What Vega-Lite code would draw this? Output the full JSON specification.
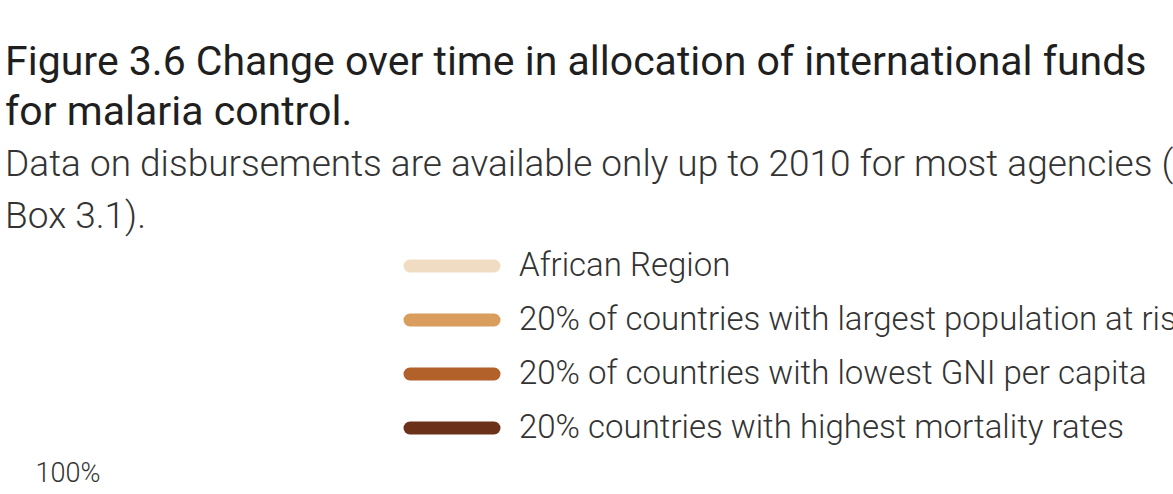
{
  "$schema": "https://vega.github.io/schema/vega-lite/v6.json",
  "width": 1000,
  "height": 400,
  "background": "white",
  "view": {"stroke": null},
  "padding": {"left": 5, "top": 42, "right": 0, "bottom": 0},
  "title": {
    "text": ["Figure 3.6 Change over time in allocation of international funds", "for malaria control."],
    "subtitle": ["Data on disbursements are available only up to 2010 for most agencies (see", "Box 3.1)."],
    "anchor": "start",
    "frame": "bounds",
    "dx": -30,
    "font": "Roboto, sans-serif",
    "fontSize": 41,
    "fontWeight": "normal",
    "color": "#1f1f1f",
    "lineHeight": 50,
    "subtitleFont": "Roboto, sans-serif",
    "subtitleFontSize": 37,
    "subtitleFontWeight": 300,
    "subtitleColor": "#333333",
    "subtitleLineHeight": 52,
    "subtitlePadding": 13,
    "offset": 3
  },
  "data": {
    "values": [
      {"year": 2002, "group": "African Region", "share": 0.62},
      {"year": 2003, "group": "African Region", "share": 0.65},
      {"year": 2004, "group": "African Region", "share": 0.70},
      {"year": 2005, "group": "African Region", "share": 0.72},
      {"year": 2006, "group": "African Region", "share": 0.78},
      {"year": 2007, "group": "African Region", "share": 0.80},
      {"year": 2008, "group": "African Region", "share": 0.82},
      {"year": 2009, "group": "African Region", "share": 0.85},
      {"year": 2010, "group": "African Region", "share": 0.84},
      {"year": 2002, "group": "20% of countries with largest population at risk", "share": 0.30},
      {"year": 2003, "group": "20% of countries with largest population at risk", "share": 0.33},
      {"year": 2004, "group": "20% of countries with largest population at risk", "share": 0.38},
      {"year": 2005, "group": "20% of countries with largest population at risk", "share": 0.40},
      {"year": 2006, "group": "20% of countries with largest population at risk", "share": 0.42},
      {"year": 2007, "group": "20% of countries with largest population at risk", "share": 0.45},
      {"year": 2008, "group": "20% of countries with largest population at risk", "share": 0.47},
      {"year": 2009, "group": "20% of countries with largest population at risk", "share": 0.48},
      {"year": 2010, "group": "20% of countries with largest population at risk", "share": 0.46},
      {"year": 2002, "group": "20% of countries with lowest GNI per capita", "share": 0.25},
      {"year": 2003, "group": "20% of countries with lowest GNI per capita", "share": 0.27},
      {"year": 2004, "group": "20% of countries with lowest GNI per capita", "share": 0.30},
      {"year": 2005, "group": "20% of countries with lowest GNI per capita", "share": 0.33},
      {"year": 2006, "group": "20% of countries with lowest GNI per capita", "share": 0.35},
      {"year": 2007, "group": "20% of countries with lowest GNI per capita", "share": 0.37},
      {"year": 2008, "group": "20% of countries with lowest GNI per capita", "share": 0.40},
      {"year": 2009, "group": "20% of countries with lowest GNI per capita", "share": 0.42},
      {"year": 2010, "group": "20% of countries with lowest GNI per capita", "share": 0.41},
      {"year": 2002, "group": "20% countries with highest mortality rates", "share": 0.20},
      {"year": 2003, "group": "20% countries with highest mortality rates", "share": 0.24},
      {"year": 2004, "group": "20% countries with highest mortality rates", "share": 0.28},
      {"year": 2005, "group": "20% countries with highest mortality rates", "share": 0.30},
      {"year": 2006, "group": "20% countries with highest mortality rates", "share": 0.33},
      {"year": 2007, "group": "20% countries with highest mortality rates", "share": 0.36},
      {"year": 2008, "group": "20% countries with highest mortality rates", "share": 0.38},
      {"year": 2009, "group": "20% countries with highest mortality rates", "share": 0.40},
      {"year": 2010, "group": "20% countries with highest mortality rates", "share": 0.39}
    ]
  },
  "mark": {"type": "line", "strokeWidth": 5},
  "encoding": {
    "x": {"field": "year", "type": "ordinal", "axis": {"title": null, "labelAngle": 0, "labelFontSize": 26}},
    "y": {
      "field": "share",
      "type": "quantitative",
      "scale": {"domain": [0, 1]},
      "axis": {
        "title": null,
        "format": ".0%",
        "tickCount": 5,
        "labelFont": "Roboto, sans-serif",
        "labelFontSize": 27,
        "labelFontWeight": 300,
        "labelColor": "#333333",
        "domain": false,
        "ticks": false,
        "labelPadding": 12,
        "grid": false
      }
    },
    "color": {
      "field": "group",
      "type": "nominal",
      "scale": {
        "domain": [
          "African Region",
          "20% of countries with largest population at risk",
          "20% of countries with lowest GNI per capita",
          "20% countries with highest mortality rates"
        ],
        "range": ["#efdcc3", "#d99d5e", "#b3612a", "#6b3219"]
      },
      "legend": {
        "orient": "none",
        "legendX": 313,
        "legendY": -234,
        "title": null,
        "symbolType": "M-2.05,0 L2.05,0",
        "symbolSize": 1681,
        "symbolStrokeWidth": 13,
        "symbolOpacity": 1,
        "labelFont": "Roboto, sans-serif",
        "labelFontSize": 33,
        "labelFontWeight": 300,
        "labelColor": "#333333",
        "labelOffset": 40,
        "labelLimit": 1000,
        "rowPadding": 1,
        "encode": {"symbols": {"update": {"strokeCap": {"value": "round"}}}}
      }
    }
  }
}
